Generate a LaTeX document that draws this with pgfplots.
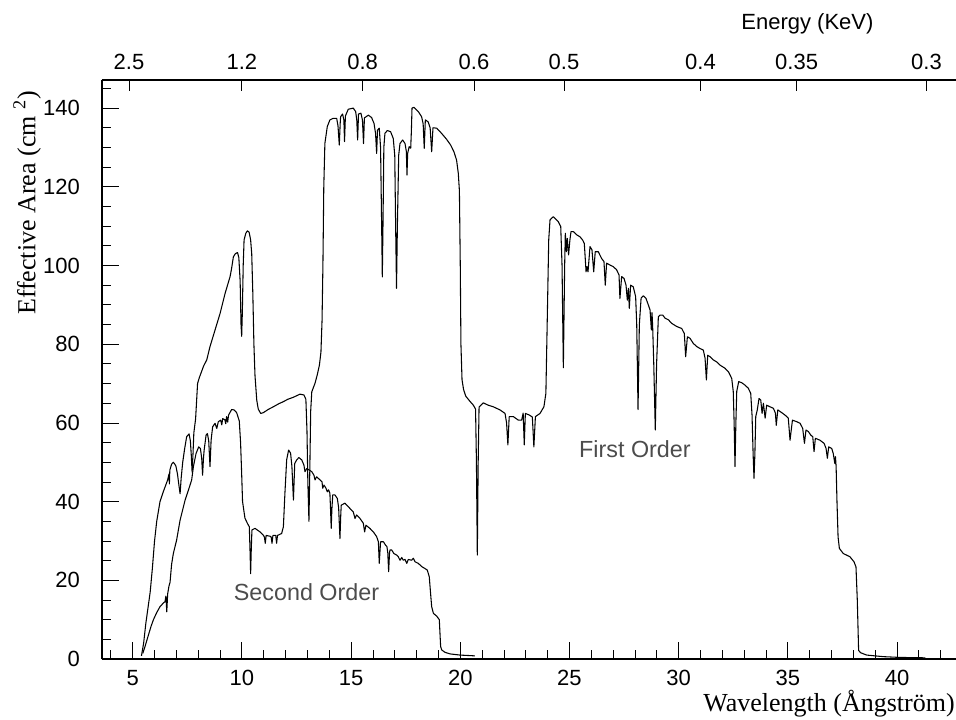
\documentclass[border=0pt]{standalone}
\usepackage{pgfplots}
\pgfplotsset{compat=1.18}
\usepackage{fontspec}
\setmainfont{Liberation Serif}
\newfontfamily\hel{Liberation Sans}
\begin{document}
\begin{tikzpicture}
\useasboundingbox (-76.5pt,-45pt) rectangle (640.5pt,494.25pt);
\begin{axis}[
  at={(0pt,0pt)}, anchor=south west, scale only axis,
  width=640.5pt, height=434.25pt,
  xmin=3.594, xmax=42.70, ymin=0, ymax=147.14,
  axis y line*=left,
  xtick pos=bottom,
  xtick={5,10,...,40}, minor xtick={4,...,42},
  ytick={0,20,...,140}, minor ytick={0,5,...,145},
  tick align=inside,
  major tick length=12.5pt, minor tick length=6.5pt,
  every tick/.style={black, line width=0.6pt},
  axis line style={line width=0.8pt, -},
  /pgf/number format/assume math mode=true,
  ticklabel style={font=\hel\fontsize{16.5}{18}\selectfont},
  xticklabel style={yshift=-4.8pt},
  yticklabel style={xshift=-13pt},
  clip=false,
]
\addplot[black, line width=0.8pt, line join=round] coordinates {
(5.40,0.8)(5.50,4)(5.60,9)(5.70,13)(5.80,17)(5.90,23)(6.00,30)(6.10,35)(6.25,40)(6.40,42.5)(6.50,44)(6.60,45.5)(6.66,47)(6.68,44.5)(6.70,48)(6.78,49.5)(6.86,50)(6.93,49.5)(6.98,49)(7.05,47)(7.12,44)(7.17,42)(7.22,46)(7.29,50)(7.38,53.5)(7.47,56.5)(7.58,57.2)(7.64,55.5)(7.68,52)(7.72,47.5)(7.76,52)(7.80,57.5)(7.88,61)(7.93,66)(7.97,70)(8.05,71.5)(8.15,73)(8.25,74.5)(8.39,76)(8.54,79.4)(8.77,83.6)(9.00,87.8)(9.23,92.9)(9.46,97.2)(9.53,99.3)(9.61,102.2)(9.70,103)(9.80,103.3)(9.86,102)(9.92,96)(9.96,85)(9.99,82)(10.02,88)(10.06,100)(10.10,106.5)(10.18,108.2)(10.25,108.8)(10.33,108.5)(10.40,106.5)(10.45,103)(10.50,93)(10.55,80)(10.60,72)(10.68,65.8)(10.75,63.5)(10.86,62.4)(10.98,62.6)(11.2,63.4)(11.44,64.1)(11.7,64.9)(11.9,65.4)(12.1,66)(12.35,66.5)(12.66,67.3)(12.84,67.1)(12.93,66)(12.98,58)(13.02,45)(13.07,35)(13.11,48)(13.15,63)(13.20,67.9)(13.35,70.1)(13.45,72.2)(13.55,74.7)(13.62,78)(13.67,86)(13.71,100)(13.75,120)(13.80,131)(13.91,135.3)(14.03,137)(14.18,137.4)(14.34,137.4)(14.40,135.5)(14.46,130.6)(14.50,136)(14.52,137.8)(14.61,138.5)(14.67,137)(14.70,131.5)(14.74,138)(14.87,139.7)(15.10,140)(15.21,139.1)(15.26,137)(15.30,131.9)(15.34,138.5)(15.45,138.7)(15.52,137)(15.57,131)(15.61,137.5)(15.79,138.2)(15.94,137.6)(16.05,136.1)(16.12,133.6)(16.17,128.5)(16.21,134.4)(16.29,134.9)(16.35,130)(16.40,110)(16.43,97.1)(16.46,110)(16.50,130)(16.55,133.6)(16.66,134.3)(16.81,134)(16.93,132.3)(17.00,128)(17.04,110)(17.08,94.2)(17.12,110)(17.18,128)(17.24,131)(17.36,131.9)(17.47,131)(17.53,129)(17.56,123)(17.59,128.5)(17.66,130.2)(17.73,129.8)(17.76,134)(17.79,140)(17.88,140.2)(18.08,139.1)(18.23,137.8)(18.30,136)(18.35,129.8)(18.40,137)(18.53,136.5)(18.62,135)(18.69,128.9)(18.75,135)(18.92,134.9)(19.14,133.6)(19.37,132.1)(19.56,130.6)(19.71,128.9)(19.83,126.8)(19.91,123.4)(19.96,119)(20.00,100)(20.03,80)(20.08,71)(20.15,68.5)(20.25,66.8)(20.44,65.5)(20.60,64.5)(20.70,63.5)(20.74,50)(20.78,26.4)(20.82,50)(20.86,64)(21.05,65.1)(21.28,64.5)(21.51,64.1)(21.82,63.3)(22.05,62.4)(22.12,60)(22.18,54.4)(22.24,61.6)(22.43,61.6)(22.66,60.7)(22.81,60.7)(22.88,62.5)(22.93,54.4)(22.98,62.4)(23.16,62)(23.30,61.5)(23.37,53.9)(23.44,61.6)(23.65,62.4)(23.83,64.1)(23.92,67.5)(23.98,85.3)(24.05,106.5)(24.11,111.6)(24.26,112.4)(24.49,111.1)(24.60,109.9)(24.66,100)(24.72,74)(24.78,100)(24.81,108.2)(24.86,103.5)(24.90,106.9)(24.96,102.7)(25.02,106.5)(25.07,108.6)(25.18,108.6)(25.33,107.8)(25.48,107.3)(25.60,106.5)(25.68,105.6)(25.76,98.4)(25.80,99.7)(25.85,98.4)(25.94,104.8)(26.03,104)(26.11,98.4)(26.18,103.5)(26.32,103.5)(26.47,101.8)(26.58,101)(26.64,95)(26.70,100.6)(26.86,100.1)(27.01,99.7)(27.16,98.9)(27.27,97.6)(27.31,91.6)(27.39,97.2)(27.50,96.7)(27.59,95)(27.65,91.2)(27.70,94.2)(27.74,89.1)(27.80,95)(27.92,94.6)(28.03,92.1)(28.08,85)(28.14,63.4)(28.20,85)(28.28,91.7)(28.38,92.3)(28.50,91.7)(28.61,90)(28.69,88.7)(28.75,83.6)(28.78,88)(28.81,84.4)(28.86,75)(28.93,58.2)(28.99,75)(29.07,87)(29.15,87.4)(29.27,87.4)(29.38,86.6)(29.53,86.2)(29.68,85.3)(29.91,84.5)(30.14,84)(30.26,82.7)(30.32,76.8)(30.40,81.9)(30.52,81.5)(30.67,80.2)(30.83,79.4)(30.98,78.9)(31.13,78.5)(31.21,76.4)(31.27,70.9)(31.33,77.2)(31.44,76.8)(31.59,76)(31.74,75.5)(31.89,74.7)(32.12,73.9)(32.28,73)(32.43,71.3)(32.50,68)(32.54,60)(32.58,48.9)(32.62,60)(32.66,68)(32.75,70.5)(32.89,70.2)(33.04,69.6)(33.19,68.8)(33.30,67.5)(33.36,62)(33.41,52)(33.45,45.9)(33.49,52)(33.53,61.6)(33.60,63.3)(33.68,66.2)(33.76,65.8)(33.82,62.4)(33.88,65)(33.96,61.2)(34.03,64.5)(34.18,64.1)(34.34,63.7)(34.43,62.5)(34.47,59.4)(34.54,63.3)(34.67,62.8)(34.87,62)(35.02,61.2)(35.10,55.6)(35.21,60.7)(35.41,60.3)(35.56,59.9)(35.68,58.6)(35.76,54.8)(35.83,58.2)(35.94,57.8)(36.05,56.9)(36.14,56.5)(36.20,52.7)(36.26,56.1)(36.47,55.6)(36.66,54.8)(36.75,53.5)(36.81,51)(36.87,53.9)(37.01,53.5)(37.08,52.2)(37.15,49.7)(37.18,51.4)(37.21,49)(37.25,40)(37.30,31)(37.36,28.1)(37.54,26.8)(37.84,26)(38.03,24.7)(38.12,23.4)(38.18,15)(38.24,2.2)(38.33,1.6)(38.61,1.0)(39.37,0.6)(40.13,0.4)(41.30,0.3)
};
\addplot[black, line width=0.8pt, line join=round] coordinates {
(5.46,1.4)(5.56,3.1)(5.64,4.6)(5.72,6.1)(5.84,8.3)(5.95,10)(6.10,11.8)(6.25,13.3)(6.40,14.2)(6.48,14.6)(6.52,16)(6.56,12)(6.60,16.5)(6.66,18.5)(6.71,19.5)(6.78,24)(6.86,26.8)(7.01,30.2)(7.17,35.3)(7.40,40.4)(7.55,42.9)(7.70,45.5)(7.78,48.9)(7.90,52.2)(8.02,53.9)(8.10,53.5)(8.16,51)(8.20,46.7)(8.24,51)(8.27,53)(8.36,56.9)(8.42,57.3)(8.48,55.5)(8.54,48.9)(8.59,55.6)(8.66,59)(8.77,59.9)(8.85,58.6)(8.92,60.3)(9.03,60.7)(9.08,59.5)(9.12,61.1)(9.22,60.8)(9.26,59.8)(9.30,61.6)(9.35,60.2)(9.39,62)(9.53,63.4)(9.64,63.3)(9.76,62.6)(9.88,60.5)(9.94,55)(9.99,47)(10.03,40)(10.14,35.8)(10.25,34.5)(10.34,33.6)(10.37,28)(10.40,21.7)(10.43,28)(10.46,32.8)(10.60,33.2)(10.83,32.3)(10.98,31.5)(11.03,31)(11.07,29.4)(11.11,31.4)(11.29,31.2)(11.34,31)(11.38,29.4)(11.42,31.4)(11.55,31.4)(11.59,29.4)(11.63,31.4)(11.67,31.5)(11.82,31.9)(11.90,33.6)(11.97,42.1)(12.05,50.6)(12.14,53.1)(12.23,52.3)(12.29,49)(12.36,40.4)(12.42,49.7)(12.51,50.6)(12.61,51.2)(12.74,50.6)(12.84,49.3)(12.89,47.6)(12.97,48.4)(13.09,48)(13.20,47.6)(13.30,46.7)(13.35,45.5)(13.42,46.3)(13.58,45.5)(13.67,45)(13.70,43.4)(13.76,44.2)(13.85,43.4)(13.91,42.5)(13.97,43)(14.03,42.1)(14.06,38)(14.09,33.2)(14.12,38)(14.16,41.7)(14.26,41.7)(14.37,40.8)(14.43,38.5)(14.49,30.6)(14.53,37)(14.55,39.1)(14.72,39.6)(14.87,38.7)(15.10,37.4)(15.18,35.7)(15.25,36.6)(15.41,35.7)(15.56,34.5)(15.62,32.3)(15.68,34)(15.86,33.2)(16.02,32.3)(16.17,31.1)(16.25,29.8)(16.29,24.3)(16.35,29.8)(16.48,29.8)(16.57,29)(16.64,28.6)(16.68,27)(16.72,22.2)(16.76,27)(16.78,27.7)(16.86,27.7)(16.96,26.8)(17.09,26.4)(17.16,26)(17.24,25.1)(17.32,25.8)(17.39,25.1)(17.47,25.3)(17.55,24.3)(17.62,25.3)(17.77,25.1)(17.85,25.6)(17.93,24.7)(18.08,24.3)(18.23,23.5)(18.38,23)(18.49,22.6)(18.58,20.9)(18.64,16.7)(18.69,13.3)(18.77,11.6)(18.92,10.9)(19.04,10)(19.10,3.2)(19.15,2.3)(19.30,1.7)(19.53,1.3)(19.99,1.0)(20.67,0.8)
};
\node[font=\hel\fontsize{17.5}{19}\selectfont, text=black!70] at (axis cs:28.0,53.4) {First Order};
\node[font=\hel\fontsize{17.5}{19}\selectfont, text=black!70] at (axis cs:12.96,17.0) {Second Order};
\end{axis}
\begin{axis}[
  at={(0pt,0pt)}, anchor=south west, scale only axis,
  width=640.5pt, height=434.25pt,
  xmin=3.594, xmax=42.70, ymin=0, ymax=147.14,
  axis x line*=top, axis y line=none,
  xtick={4.83,10.0,15.53,20.63,24.75,31.0,35.4,41.35},
  xticklabels={2.5,1.2,0.8,0.6,0.5,0.4,0.35,0.3},
  ytick=\empty,
  tick align=inside,
  major tick length=8.5pt,
  every tick/.style={black, line width=0.6pt},
  axis line style={line width=0.8pt, -},
  ticklabel style={font=\hel\fontsize{16.5}{18}\selectfont},
  xticklabel style={yshift=4.5pt},
]
\end{axis}
\node[font=\hel\fontsize{16.5}{18}\selectfont, anchor=base] at (529.1pt,471.75pt) {Energy (KeV)};
\node[font=\fontsize{19.5}{22}\selectfont, anchor=base, rotate=90] at (-50pt,342pt) {Effective Area (cm \textsuperscript{2})};
\node[font=\fontsize{19.5}{22}\selectfont, anchor=base east, inner sep=0pt] at (639.75pt,-39pt) {Wavelength (Ångström)};
\end{tikzpicture}
\end{document}
